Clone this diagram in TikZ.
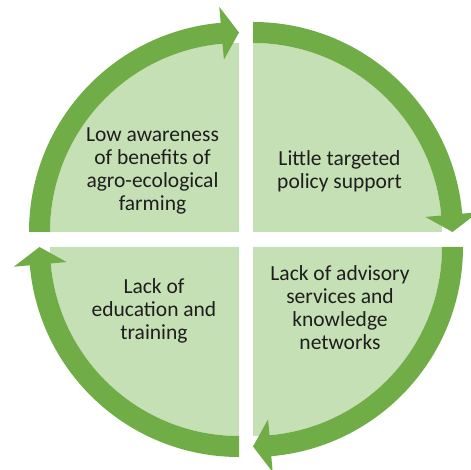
\documentclass[tikz,border=0pt]{standalone}
\usepackage{fontspec}
\setmainfont{Carlito}
\usetikzlibrary{calc}
\definecolor{band}{HTML}{70AD47}
\definecolor{pale}{HTML}{C5E0B4}
\definecolor{ink}{HTML}{1E1E1E}
\begin{document}
\begin{tikzpicture}[x=1pt,y=1pt,
  quarter/.style={fill=pale},
  arrowband/.style={fill=band},
  label/.style={align=center,text=ink,font=\fontsize{21.5}{23}\selectfont,inner sep=0pt}]
\useasboundingbox (0,0) rectangle (471,470);
\clip (0,0) rectangle (471,470);
\def\rin{189}\def\rout{210}\def\rmid{199.5}\def\hin{173}\def\hout{226}
% quadrant centres
\coordinate (tl) at (239,238);
\coordinate (tr) at (253,238);
\coordinate (bl) at (239,223);
\coordinate (br) at (253,223);
% quarter discs
\fill[quarter] (tl) -- ($(tl)+(180:\rin)$) arc[start angle=180,end angle=90,radius=\rin] -- cycle;
\fill[quarter] (tr) -- ($(tr)+(90:\rin)$) arc[start angle=90,end angle=0,radius=\rin] -- cycle;
\fill[quarter] (br) -- ($(br)+(0:\rin)$) arc[start angle=0,end angle=-90,radius=\rin] -- cycle;
\fill[quarter] (bl) -- ($(bl)+(-90:\rin)$) arc[start angle=-90,end angle=-180,radius=\rin] -- cycle;
% arrow bands (clockwise)
\foreach \c/\a in {tl/180,tr/90,br/0,bl/-90}{
  \pgfmathsetmacro{\b}{\a-85}
  \pgfmathsetmacro{\t}{\a-90}
  \fill[arrowband] ($(\c)+(\a:\rout)$) arc[start angle=\a,end angle=\b,radius=\rout]
    -- ($(\c)+(\b:\hout)$) -- ($(\c)+(\t:\rmid)$) -- ($(\c)+(\b:\hin)$)
    -- ($(\c)+(\b:\rin)$) arc[start angle=\b,end angle=\a,radius=\rin] -- cycle;
}
\node[label] (low) at (152.5,299) {Low awareness\\of benefits of\\agro-ecological\\farming};
\node[label] (policy) at (339.5,298.7) {Little targeted\\policy support};
\node[label] (edu) at (154,159.2) {Lack of\\education and\\training};
\node[label] (adv) at (340,162) {Lack of advisory\\services and\\knowledge\\networks};
\end{tikzpicture}
\end{document}
